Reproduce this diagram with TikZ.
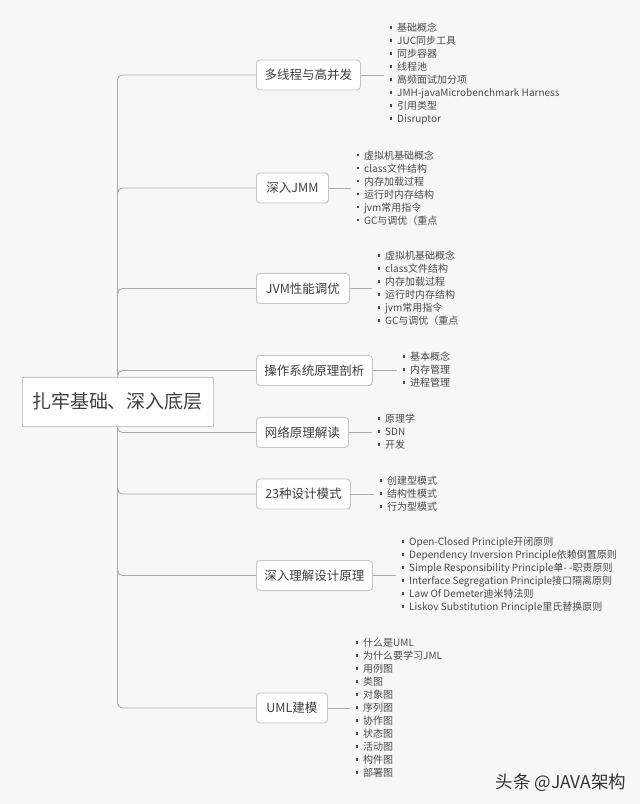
\documentclass[tikz,border=0pt]{standalone}
\usepackage{fontspec}
\setmainfont{Noto Sans CJK SC}
\usetikzlibrary{calc}
\definecolor{bgc}{HTML}{F7F7F7}
\definecolor{linec}{HTML}{ABABAB}
\definecolor{boxc}{HTML}{C6C6C6}
\definecolor{txtc}{HTML}{404040}
\definecolor{itc}{HTML}{4A4A4A}
\definecolor{wmc}{HTML}{333333}
\pgfdeclarelayer{bglayer}
\pgfdeclarelayer{edgelayer}
\pgfsetlayers{bglayer,edgelayer,main}
\newcommand{\itm}[1]{\makebox[8pt][l]{\hspace{0.3pt}\raisebox{3pt}{\rule{2.4pt}{2.4pt}}}#1}
\tikzset{
  topic/.style={draw=boxc, fill=white, rounded corners=3.5pt, line width=0.9pt,
    font=\fontsize{12.5}{15}\selectfont, text=txtc, minimum height=30pt,
    inner xsep=7pt, anchor=west},
  rootbox/.style={draw=boxc, fill=white, line width=0.9pt,
    font=\fontsize{19}{22}\selectfont, minimum width=191pt, minimum height=49pt, text=txtc},
  itemlist/.style={anchor=west, align=left, inner sep=0pt,
    font=\fontsize{10}{13}\selectfont, text=itc},
  conn/.style={draw=linec, line width=0.9pt, rounded corners=5pt},
}
\begin{document}
\begin{tikzpicture}[x=1pt,y=-1pt]
\begin{pgfonlayer}{bglayer}
  \fill[bgc] (0,0) rectangle (640,804);
\end{pgfonlayer}
\useasboundingbox (0,0) rectangle (640,804);

\node[rootbox] (root) at (117.5,401.5) {扎牢基础、深入底层};

\node[topic, minimum width=104pt] (b1) at (256,75) {多线程与高并发};
\node[topic, minimum width=72pt] (b2) at (256,188) {深入JMM};
\node[topic, minimum width=93pt] (b3) at (256,288.5) {JVM性能调优};
\node[topic, minimum width=116pt] (b4) at (256,370.5) {操作系统原理剖析};
\node[topic, minimum width=92pt] (b5) at (256,432.5) {网络原理解读};
\node[topic, minimum width=94pt] (b6) at (256,494) {23种设计模式};
\node[topic, minimum width=116pt] (b7) at (256,575.5) {深入理解设计原理};
\node[topic, minimum width=71pt] (b8) at (256,708) {UML建模};

\node[itemlist] (l1) at (389,74) {\itm{基础概念}\\\itm{JUC同步工具}\\\itm{同步容器}\\\itm{线程池}\\\itm{高频面试加分项}\\\itm{JMH-javaMicrobenchmark Harness}\\\itm{引用类型}\\\itm{Disruptor}};
\node[itemlist] (l2) at (356,188) {\itm{虚拟机基础概念}\\\itm{class文件结构}\\\itm{内存加载过程}\\\itm{运行时内存结构}\\\itm{jvm常用指令}\\\itm{GC与调优（重点}};
\node[itemlist] (l3) at (377,288.5) {\itm{虚拟机基础概念}\\\itm{class文件结构}\\\itm{内存加载过程}\\\itm{运行时内存结构}\\\itm{jvm常用指令}\\\itm{GC与调优（重点}};
\node[itemlist] (l4) at (402,370) {\itm{基本概念}\\\itm{内存管理}\\\itm{进程管理}};
\node[itemlist] (l5) at (377,432) {\itm{原理学}\\\itm{SDN}\\\itm{开发}};
\node[itemlist] (l6) at (379,494) {\itm{创建型模式}\\\itm{结构性模式}\\\itm{行为型模式}};
\node[itemlist] (l7) at (401,575) {\itm{Open-Closed Principle开闭原则}\\\itm{Dependency Inversion Principle依赖倒置原则}\\\itm{Simple Responsibility Principle单- -职责原则}\\\itm{Interface Segregation Principle接口隔离原则}\\\itm{Law Of Demeter迪米特法则}\\\itm{Liskov Substitution Principle里氏替换原则}};
\node[itemlist] (l8) at (355,708) {\itm{什么是UML}\\\itm{为什么要学习JML}\\\itm{用例图}\\\itm{类图}\\\itm{对象图}\\\itm{序列图}\\\itm{协作图}\\\itm{状态图}\\\itm{活动图}\\\itm{构件图}\\\itm{部署图}};

\node[font=\fontsize{17.5}{20}\selectfont, text=wmc, inner sep=0pt] (wm) at (561,783) {头条 @JAVA架构};

\begin{pgfonlayer}{edgelayer}
  \foreach \i in {1,...,8} {
    \draw[conn] (root.center) |- (b\i.west);
    \draw[conn] (b\i.east) -- ($(b\i.east -| l\i.west)+(-5,0)$);
  }
\end{pgfonlayer}
\end{tikzpicture}
\end{document}
